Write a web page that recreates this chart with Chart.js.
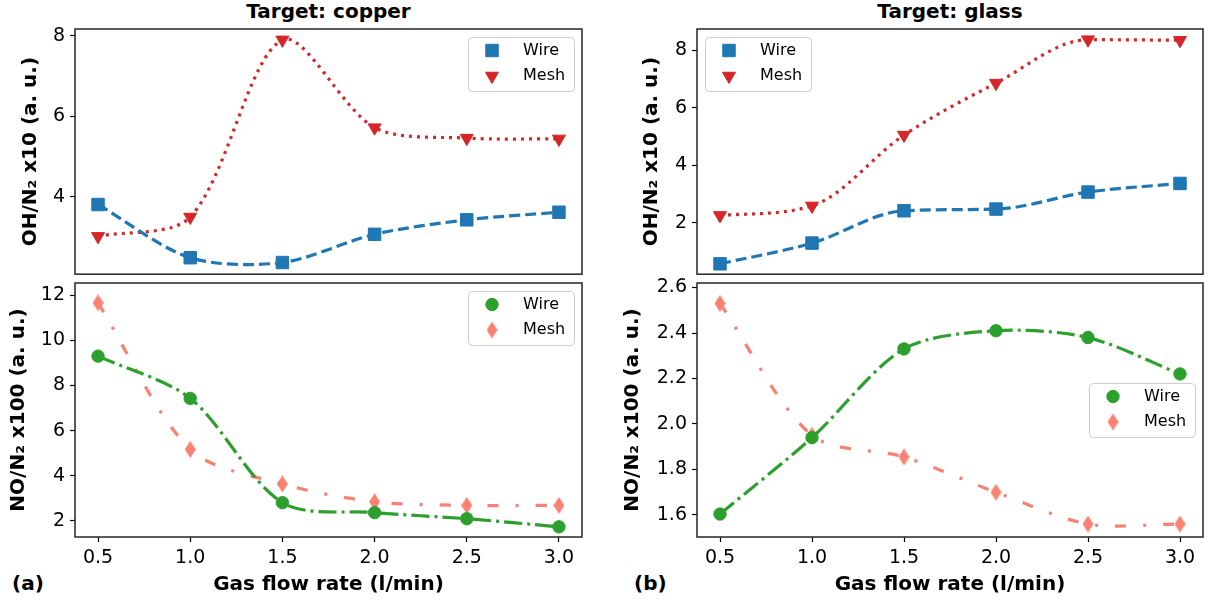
<!DOCTYPE html>
<html>
<head>
<meta charset="utf-8">
<script src="https://cdn.jsdelivr.net/npm/chart.js@4.4.1/dist/chart.umd.min.js"></script>
<style>
  body { margin: 0; background: #fff; }
  #wrap { position: relative; width: 1214px; height: 602px; background: #fff; font-family: "DejaVu Sans", sans-serif; overflow: hidden; }
  canvas { position: absolute; }
  .txt { position: absolute; font-weight: bold; font-size: 20px; color: #000; white-space: nowrap; }
</style>
</head>
<body>
<div id="wrap">
  <div class="txt" style="left:75px;width:507px;top:0;line-height:22px;text-align:center">Target: copper</div>
  <div class="txt" style="left:697px;width:506px;top:0;line-height:22px;text-align:center">Target: glass</div>
  <div class="txt" style="left:12px;top:571px;line-height:24px">(a)</div>
  <div class="txt" style="left:634px;top:571px;line-height:24px">(b)</div>
  <canvas id="cuOh" width="600" height="284" style="left:0;top:0"></canvas>
  <canvas id="glOh" width="604" height="284" style="left:610px;top:0"></canvas>
  <canvas id="cuNo" width="600" height="339" style="left:0;top:263px"></canvas>
  <canvas id="glNo" width="604" height="339" style="left:610px;top:263px"></canvas>
</div>
<script>
// gas flow rate (l/min)
const flowRate = [0.5, 1.0, 1.5, 2.0, 2.5, 3.0];
const xTicks = [0.5, 1.0, 1.5, 2.0, 2.5, 3.0];

// target: copper
const cuOhWire = [3.81, 2.49, 2.37, 3.07, 3.43, 3.62];
const cuOhMesh = [3.02, 3.50, 7.90, 5.72, 5.46, 5.44];
const cuNoWire = [9.30, 7.43, 2.81, 2.37, 2.10, 1.74];
const cuNoMesh = [11.66, 5.17, 3.64, 2.85, 2.69, 2.69];

// target: glass
const glOhWire = [0.58, 1.30, 2.42, 2.48, 3.07, 3.37];
const glOhMesh = [2.26, 2.59, 5.05, 6.85, 8.36, 8.34];
const glNoWire = [1.604, 1.94, 2.33, 2.41, 2.38, 2.22];
const glNoMesh = [2.53, 1.95, 1.855, 1.70, 1.56, 1.56];

// y tick values
const cuOhTicks = [4, 6, 8];
const cuNoTicks = [2, 4, 6, 8, 10, 12];
const glOhTicks = [2, 4, 6, 8];
const glNoTicks = [1.6, 1.8, 2.0, 2.2, 2.4, 2.6];

const BLUE = '#1f77b4', RED = '#d62728', GREEN = '#2ca02c', SALMON = '#fa8072';
const FONT = 'DejaVu Sans';

function thinDiamond(color) {
  const c = document.createElement('canvas');
  c.width = 11; c.height = 17;
  const g = c.getContext('2d');
  g.fillStyle = color;
  g.beginPath();
  g.moveTo(5.5, 0); g.lineTo(11, 8.5); g.lineTo(5.5, 17); g.lineTo(0, 8.5);
  g.closePath(); g.fill();
  return c;
}

function series(values) {
  return flowRate.map((x, i) => ({ x: x, y: values[i] }));
}

function lineSet(label, values, color, style, extra) {
  return Object.assign({
    label: label,
    data: series(values),
    borderColor: color,
    backgroundColor: color,
    pointBackgroundColor: color,
    pointBorderColor: color,
    pointBorderWidth: 1,
    borderWidth: 3.2,
    borderCapStyle: 'butt',
    tension: 0.3,
    fill: false
  }, style, extra || {});
}

// full box around the plot area
const frame = {
  id: 'frame',
  afterDatasetsDraw(chart) {
    const a = chart.chartArea, ctx = chart.ctx;
    ctx.save();
    ctx.strokeStyle = '#262626';
    ctx.lineWidth = 1.5;
    ctx.strokeRect(a.left, a.top, a.right - a.left, a.bottom - a.top);
    ctx.restore();
  }
};

// matplotlib-like legend inside the axes, markers only
const boxLegend = {
  id: 'boxLegend',
  afterDatasetsDraw(chart, args, opts) {
    const a = chart.chartArea, ctx = chart.ctx;
    const w = 106, h = 54;
    const x = opts.loc.indexOf('right') >= 0 ? a.right - 8 - w : a.left + 8;
    const y = opts.loc.indexOf('center') === 0 ? (a.top + a.bottom) / 2 - h / 2 : a.top + 8;
    ctx.save();
    ctx.beginPath();
    ctx.roundRect(x + 0.5, y + 0.5, w, h, 4);
    ctx.fillStyle = 'rgba(255,255,255,0.8)';
    ctx.fill();
    ctx.strokeStyle = '#cccccc';
    ctx.lineWidth = 1;
    ctx.stroke();
    chart.data.datasets.forEach((ds, i) => {
      const cy = y + 13.5 + i * 25.5;
      ctx.fillStyle = ds.pointBackgroundColor;
      ctx.strokeStyle = ds.pointBorderColor;
      ctx.lineWidth = 1;
      ctx.setLineDash([]);
      Chart.helpers.drawPoint(ctx, {
        pointStyle: ds.pointStyle,
        rotation: ds.pointRotation || 0,
        radius: ds.pointRadius,
        borderWidth: 1
      }, x + 24, cy);
      ctx.fillStyle = '#000';
      ctx.font = '16px "' + FONT + '"';
      ctx.textBaseline = 'middle';
      ctx.textAlign = 'left';
      ctx.fillText(ds.label, x + 55, cy);
    });
    ctx.restore();
  }
};

function makeChart(id, opt) {
  const tickFont = { family: FONT, size: 19 };
  const titleFont = { family: FONT, size: 20, weight: 'bold' };
  const grid = { drawOnChartArea: false, drawTicks: true, tickLength: 5, tickColor: '#000', tickWidth: 1.2 };
  return new Chart(document.getElementById(id), {
    type: 'line',
    data: { datasets: opt.datasets },
    options: {
      responsive: false,
      animation: false,
      devicePixelRatio: 1,
      layout: { padding: opt.padding },
      plugins: {
        legend: { display: false },
        tooltip: { enabled: false },
        boxLegend: { loc: opt.legendLoc }
      },
      scales: {
        x: {
          type: 'linear',
          min: 0.375,
          max: 3.125,
          display: opt.showX,
          afterFit: s => {
            if (!opt.showX) return;
            s.height = 64;
            s.paddingLeft = 0;
            s.paddingRight = 0;
          },
          afterBuildTicks: s => { s.ticks = xTicks.map(v => ({ value: v })); },
          ticks: { font: tickFont, color: '#000', padding: 5, maxRotation: 0, autoSkip: false, callback: v => v.toFixed(1) },
          grid: grid,
          border: { display: false },
          title: { display: true, text: 'Gas flow rate (l/min)', font: titleFont, color: '#000', padding: { top: 4, bottom: 4 } }
        },
        y: {
          type: 'linear',
          min: opt.yMin,
          max: opt.yMax,
          afterFit: s => {
            s.width = opt.yWidth;
            s.paddingTop = 0;
            s.paddingBottom = 0;
          },
          afterBuildTicks: s => { s.ticks = opt.yTicks.map(v => ({ value: v })); },
          ticks: { font: tickFont, color: '#000', padding: 5, autoSkip: false, callback: opt.yFmt },
          grid: grid,
          border: { display: false },
          title: { display: true, text: opt.yTitle, font: titleFont, color: '#000', padding: { top: 4, bottom: 4 } }
        }
      }
    },
    plugins: [frame, boxLegend]
  });
}

const wireSq = { borderDash: [11, 5], pointStyle: 'rect', pointRadius: 8.8 };
const meshTri = { borderDash: [3, 5], pointStyle: 'triangle', pointRotation: 180, pointRadius: 7.5 };
const wireDot = { borderDash: [18, 5, 3, 5], pointStyle: 'circle', pointRadius: 6.2 };
const meshDia = { borderDash: [11, 17, 3, 17], pointStyle: thinDiamond(SALMON), pointRadius: 8 };
const smooth = { cubicInterpolationMode: 'monotone' };

makeChart('cuOh', {
  datasets: [lineSet('Wire', cuOhWire, BLUE, wireSq), lineSet('Mesh', cuOhMesh, RED, meshTri)],
  padding: { left: 15, right: 18, top: 29, bottom: 1 },
  yWidth: 60, yMin: 2.08, yMax: 8.17, yTicks: cuOhTicks, yFmt: v => String(v),
  yTitle: 'OH/N\u2082 x10 (a. u.)', showX: false, legendLoc: 'upper right'
});

makeChart('cuNo', {
  datasets: [lineSet('Wire', cuNoWire, GREEN, wireDot), lineSet('Mesh', cuNoMesh, SALMON, meshDia)],
  padding: { left: 3, right: 18, top: 20, bottom: 1 },
  yWidth: 72, yMin: 1.29, yMax: 12.54, yTicks: cuNoTicks, yFmt: v => String(v),
  yTitle: 'NO/N\u2082 x100 (a. u.)', showX: true, legendLoc: 'upper right'
});

makeChart('glOh', {
  datasets: [lineSet('Wire', glOhWire, BLUE, wireSq, smooth), lineSet('Mesh', glOhMesh, RED, meshTri, smooth)],
  padding: { left: 26, right: 11, top: 29, bottom: 1 },
  yWidth: 61, yMin: 0.22, yMax: 8.73, yTicks: glOhTicks, yFmt: v => String(v),
  yTitle: 'OH/N\u2082 x10 (a. u.)', showX: false, legendLoc: 'upper left'
});

makeChart('glNo', {
  datasets: [lineSet('Wire', glNoWire, GREEN, wireDot), lineSet('Mesh', glNoMesh, SALMON, meshDia)],
  padding: { left: 7, right: 11, top: 20, bottom: 1 },
  yWidth: 80, yMin: 1.503, yMax: 2.62, yTicks: glNoTicks, yFmt: v => v.toFixed(1),
  yTitle: 'NO/N\u2082 x100 (a. u.)', showX: true, legendLoc: 'center right'
});
</script>
</body>
</html>
